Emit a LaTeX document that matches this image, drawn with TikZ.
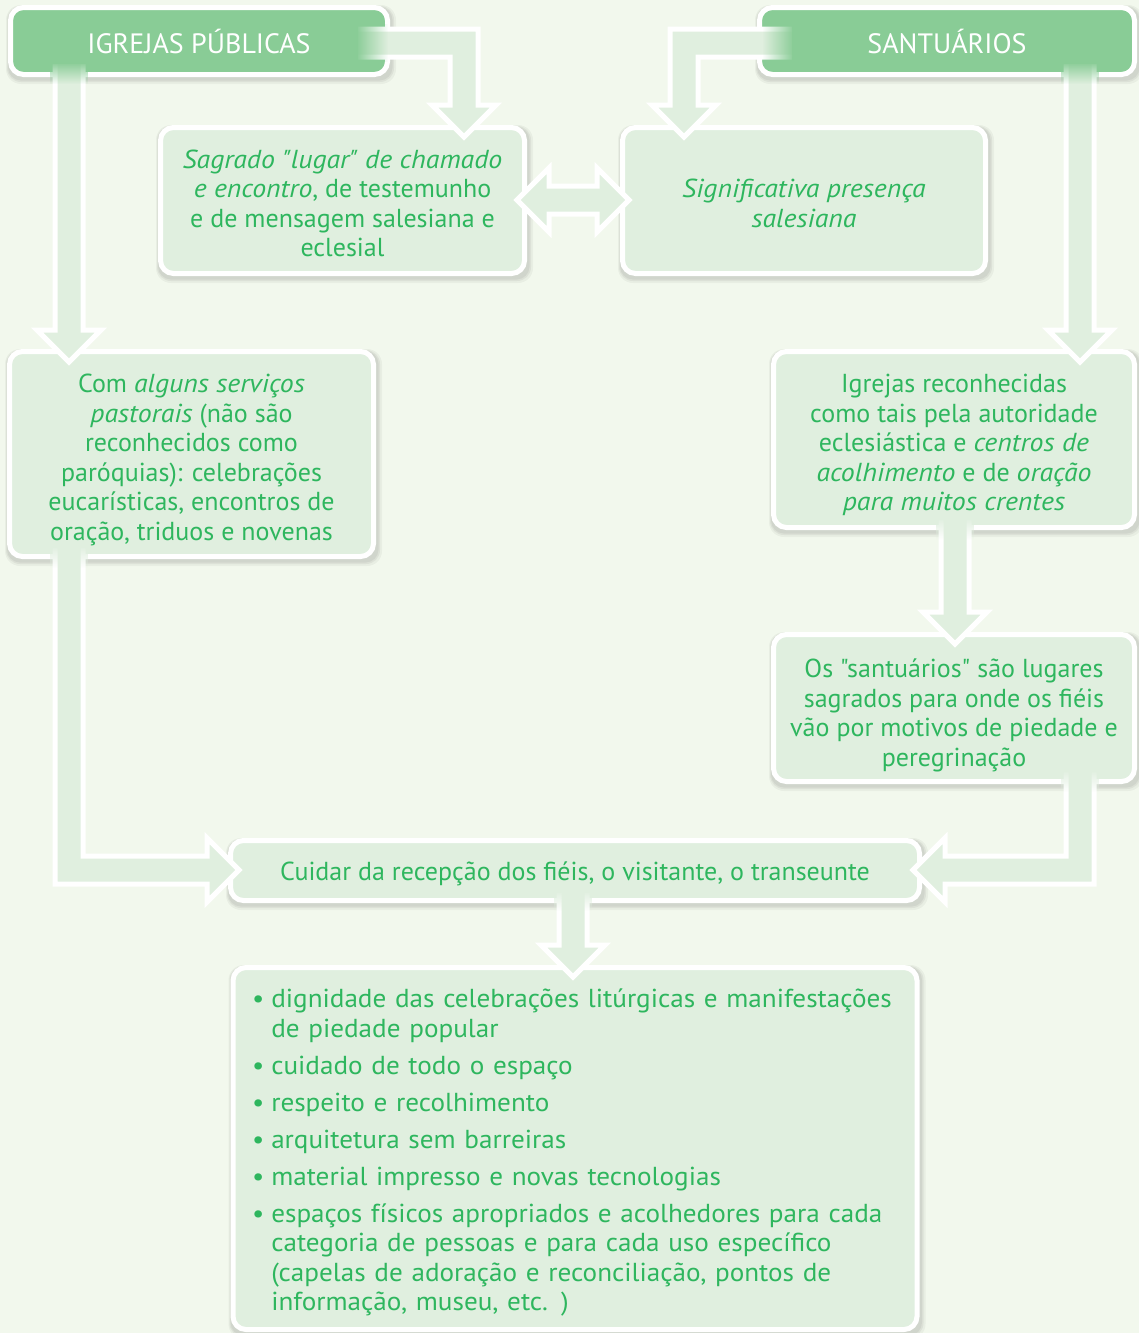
\documentclass[tikz,border=0pt]{standalone}
\usepackage{fontspec}
\setmainfont{PT Sans}[Ligatures=TeXOff, ItalicFeatures={FakeStretch=1.07}]
\newfontfamily\hdrfont[Ligatures=TeXOff]{PT Sans}
\usetikzlibrary{fadings}
\definecolor{bgc}{RGB}{242,248,237}
\definecolor{boxc}{RGB}{224,239,223}
\definecolor{hdrc}{RGB}{137,204,150}
\definecolor{txtc}{RGB}{46,182,94}
\pgfdeclarelayer{bglayer}
\pgfdeclarelayer{shdlayer}
\pgfsetlayers{bglayer,shdlayer,main}
\tikzfading[name=fadeR, left color=transparent!0, right color=transparent!100]
\tikzfading[name=fadeL, left color=transparent!100, right color=transparent!0]
\tikzfading[name=fadeD, top color=transparent!0, bottom color=transparent!100]
\newcommand\bodysize{\fontsize{26}{29.5}\selectfont}
\newcommand\lowered[2]{\raisebox{-#1}[\height][\depth]{#2}}
\newcommand\ctext[2]{\lowered{#1}{\begin{tabular}{@{}c@{}}#2\end{tabular}}}
\tikzset{
  box/.style={draw=white, line width=5pt, fill=boxc, rounded corners=13pt, text=txtc,
    align=center, inner sep=0pt, font=\bodysize},
  hdr/.style={box, fill=hdrc, text=white, font=\hdrfont\fontsize{28}{30}\selectfont},
  arrline/.style={draw=white, line width=5pt, line join=miter, miter limit=4},
  arrfill/.style={fill=boxc},
}
\begin{document}
\begin{tikzpicture}[x=1pt,y=-1pt]
\useasboundingbox (0,0) rectangle (1139,1333);
\begin{pgfonlayer}{bglayer}
\fill[bgc] (0,0) rectangle (1139,1333);
\end{pgfonlayer}

% boxes
\node[hdr, minimum width=377pt, minimum height=67pt] (hl) at (199,41) {IGREJAS PÚBLICAS};
\node[hdr, minimum width=375pt, minimum height=67pt] (hr) at (947,41) {SANTUÁRIOS};
\node[box, minimum width=364pt, minimum height=146pt] (sag) at (342.5,200.5)
  {\ctext{6pt}{\textit{Sagrado "lugar" de chamado}\\ \textit{e encontro}, de testemunho\\ e de mensagem salesiana e\\ eclesial}};
\node[box, minimum width=363pt, minimum height=146pt] (sig) at (804,200.5)
  {\ctext{6pt}{\textit{Significativa presença}\\ \textit{salesiana}}};
\node[box, minimum width=364pt, minimum height=205pt] (com) at (191.5,454)
  {\ctext{6.5pt}{Com \textit{alguns serviços}\\ \textit{pastorais} (não são\\ reconhecidos como\\ paróquias): celebrações\\ eucarísticas, encontros de\\ oração, triduos e novenas}};
\node[box, minimum width=361pt, minimum height=176pt] (igr) at (954,439.5)
  {\ctext{6.5pt}{Igrejas reconhecidas\\ como tais pela autoridade\\ eclesiástica e \textit{centros de}\\ \textit{acolhimento} e de \textit{oração}\\ \textit{para muitos crentes}}};
\node[box, minimum width=361pt, minimum height=147pt] (os) at (954,708)
  {\ctext{8pt}{Os "santuários" são lugares\\ sagrados para onde os fiéis\\ vão por motivos de piedade e\\ peregrinação}};
\node[box, minimum width=689pt, minimum height=60pt] (cui) at (575,870.5)
  {\lowered{3.5pt}{Cuidar da recepção dos fiéis, o visitante, o transeunte}};
\node[box, minimum height=362pt, text width=646pt, inner xsep=19pt, align=left,
  font=\bodysize\addfontfeatures{FakeStretch=1.045}] (lst) at (575,1148.5)
  {\lowered{5pt}{\begin{tabular}{@{}l@{\hspace{7pt}}l@{}}
  •&dignidade das celebrações litúrgicas e manifestações\\
   &de piedade popular\\[7.5pt]
  •&cuidado de todo o espaço\\[7.5pt]
  •&respeito e recolhimento\\[7.5pt]
  •&arquitetura sem barreiras\\[7.5pt]
  •&material impresso e novas tecnologias\\[7.5pt]
  •&espaços físicos apropriados e acolhedores para cada\\
   &categoria de pessoas e para cada uso específico\\
   &(capelas de adoração e reconciliação, pontos de\\
   &informação, museu, etc. )
  \end{tabular}}};

% shadows
\begin{pgfonlayer}{shdlayer}
\foreach \n in {hl,hr,sag,sig,com,igr,os,cui,lst}{
  \fill[black,opacity=.04,rounded corners=15pt] ([shift={(-2,0)}]\n.north west) rectangle ([shift={(6,7)}]\n.south east);
  \fill[black,opacity=.05,rounded corners=14pt] ([shift={(-1,1)}]\n.north west) rectangle ([shift={(4,5)}]\n.south east);
  \fill[black,opacity=.05,rounded corners=13pt] ([shift={(0,2)}]\n.north west) rectangle ([shift={(2.5,3.5)}]\n.south east);
}
\end{pgfonlayer}

% arrow: left header -> sagrado
\fill[arrfill] (358,29) -- (478,29) -- (478,105) -- (496,105) -- (464,137) -- (432,105) -- (450,105) -- (450,57) -- (358,57) -- cycle;
\draw[arrline] (358,29) -- (478,29) -- (478,105) -- (496,105) -- (464,137) -- (432,105) -- (450,105) -- (450,57) -- (358,57);
\fill[hdrc, path fading=fadeR] (356,24) rectangle (388,62);

% arrow: right header -> significativa
\fill[arrfill] (792,29) -- (670,29) -- (670,105) -- (652,105) -- (684,137) -- (716,105) -- (698,105) -- (698,57) -- (792,57) -- cycle;
\draw[arrline] (792,29) -- (670,29) -- (670,105) -- (652,105) -- (684,137) -- (716,105) -- (698,105) -- (698,57) -- (792,57);
\fill[hdrc, path fading=fadeL] (762,24) rectangle (794,62);

% arrow: left header -> com
\fill[arrfill] (55,64) -- (55,330) -- (37,330) -- (69,362) -- (101,330) -- (83,330) -- (83,64) -- cycle;
\draw[arrline] (55,64) -- (55,330) -- (37,330) -- (69,362) -- (101,330) -- (83,330) -- (83,64);
\fill[hdrc, path fading=fadeD] (50,62) rectangle (88,84);

% arrow: right header -> igrejas
\fill[arrfill] (1066,64) -- (1066,330) -- (1048,330) -- (1080,362) -- (1112,330) -- (1094,330) -- (1094,64) -- cycle;
\draw[arrline] (1066,64) -- (1066,330) -- (1048,330) -- (1080,362) -- (1112,330) -- (1094,330) -- (1094,64);
\fill[hdrc, path fading=fadeD] (1061,62) rectangle (1099,84);

% arrow: sagrado <-> significativa
\filldraw[arrfill, arrline] (517,200) -- (549,168) -- (549,186) -- (597,186) -- (597,168) -- (629,200)
  -- (597,232) -- (597,214) -- (549,214) -- (549,232) -- cycle;

% arrow: igrejas -> os
\fill[arrfill] (941,520) -- (941,612) -- (923,612) -- (955,644) -- (987,612) -- (969,612) -- (969,520) -- cycle;
\draw[arrline] (941,520) -- (941,612) -- (923,612) -- (955,644) -- (987,612) -- (969,612) -- (969,520);
\fill[boxc, path fading=fadeD] (936,518) rectangle (974,540);

% arrow: com -> cuidar
\fill[arrfill] (55,548) -- (55,884) -- (207,884) -- (207,902) -- (239,870) -- (207,838) -- (207,856) -- (83,856) -- (83,548) -- cycle;
\draw[arrline] (55,548) -- (55,884) -- (207,884) -- (207,902) -- (239,870) -- (207,838) -- (207,856) -- (83,856) -- (83,548);
\fill[boxc, path fading=fadeD] (50,546) rectangle (88,568);

% arrow: os -> cuidar
\fill[arrfill] (1094,772) -- (1094,884) -- (945,884) -- (945,902) -- (913,870) -- (945,838) -- (945,856) -- (1066,856) -- (1066,772) -- cycle;
\draw[arrline] (1094,772) -- (1094,884) -- (945,884) -- (945,902) -- (913,870) -- (945,838) -- (945,856) -- (1066,856) -- (1066,772);
\fill[boxc, path fading=fadeD] (1061,770) rectangle (1099,792);

% arrow: cuidar -> list
\fill[arrfill] (559,893) -- (559,945) -- (541,945) -- (573,977) -- (605,945) -- (587,945) -- (587,893) -- cycle;
\draw[arrline] (559,893) -- (559,945) -- (541,945) -- (573,977) -- (605,945) -- (587,945) -- (587,893);
\fill[boxc, path fading=fadeD] (554,891) rectangle (592,911);
\end{tikzpicture}
\end{document}
